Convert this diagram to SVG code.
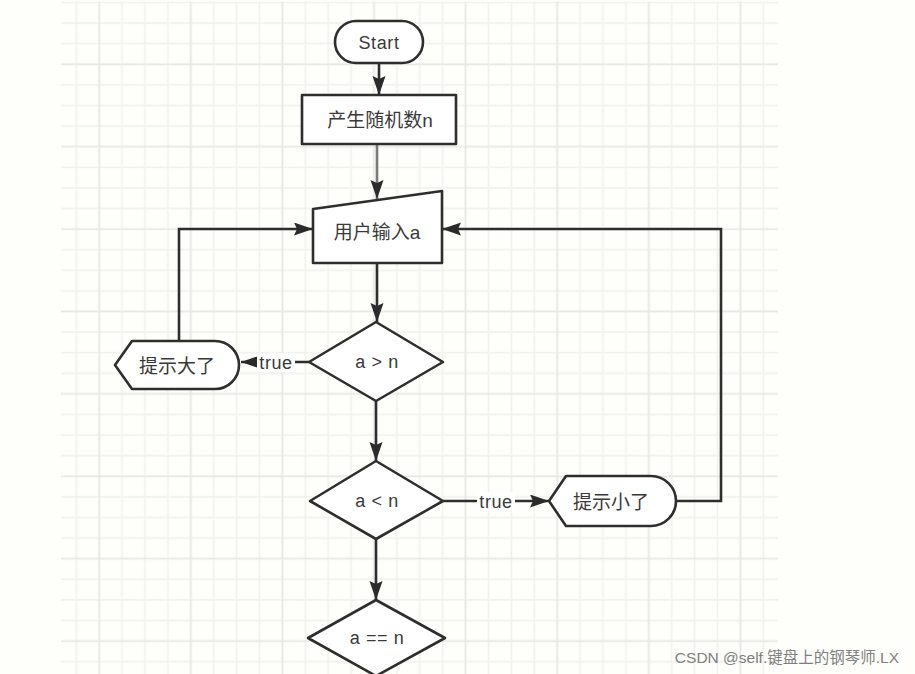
<svg xmlns="http://www.w3.org/2000/svg" width="915" height="674" viewBox="0 0 915 674">
<defs>
<pattern id="grid" patternUnits="userSpaceOnUse" x="87.75" y="54" width="91.6" height="82.4">
<rect x="0" y="0" width="91.6" height="82.4" fill="#fefefa"/>
<g stroke="#f1f1ed" stroke-width="1.6">
<line x1="34.35" y1="0" x2="34.35" y2="82.4"/>
<line x1="57.25" y1="0" x2="57.25" y2="82.4"/>
<line x1="80.15" y1="0" x2="80.15" y2="82.4"/>
<line x1="0" y1="30.9" x2="91.6" y2="30.9"/>
<line x1="0" y1="51.5" x2="91.6" y2="51.5"/>
<line x1="0" y1="72.1" x2="91.6" y2="72.1"/>
</g>
<g stroke="#e7e7e3" stroke-width="1.8">
<line x1="11.45" y1="0" x2="11.45" y2="82.4"/>
<line x1="0" y1="10.3" x2="91.6" y2="10.3"/>
</g>
</pattern>
<marker id="arr" markerUnits="userSpaceOnUse" markerWidth="20" markerHeight="14" refX="19" refY="6.5" orient="auto">
<path d="M0,0 L19,6.5 L0,13 L3,6.5 Z" fill="#2b2b2b"/>
</marker>
<style>
.shape{fill:#ffffff;stroke:#2e2e2e;stroke-width:2.6;stroke-linejoin:round}
.conn{fill:none;stroke:#2e2e2e;stroke-width:2.6}
.lbl{font-family:"Liberation Sans","Noto Sans CJK SC",sans-serif;fill:#3a3a3a;text-anchor:middle;dominant-baseline:central}
.cjk{font-size:19px}
.lat{font-size:18px;letter-spacing:0.6px}
.tl{font-size:18px;letter-spacing:0.6px}
.wm{font-family:"Liberation Sans","Noto Sans CJK SC",sans-serif;font-size:15.5px;fill:#808080;text-anchor:end}
</style>
</defs>
<rect x="0" y="0" width="915" height="674" fill="#fefefa"/>
<rect x="61" y="1.5" width="717" height="672.5" fill="url(#grid)"/>

<g id="connectors">
<path class="conn" d="M379,63 V95" stroke="#555" marker-end="url(#arr)"/>
<path class="conn" d="M377,144 V199" style="stroke:#7a7a7a" marker-end="url(#arr)"/>
<path class="conn" d="M377,263 V322" marker-end="url(#arr)"/>
<path class="conn" d="M376,401 V461" marker-end="url(#arr)"/>
<path class="conn" d="M376,539 V600" marker-end="url(#arr)"/>
<path class="conn" d="M309,362 H241" marker-end="url(#arr)"/>
<path class="conn" d="M443,501 H549" marker-end="url(#arr)"/>
<path class="conn" d="M179,342 V229 H313" marker-end="url(#arr)"/>
<path class="conn" d="M676,501 H721 V229 H442" marker-end="url(#arr)"/>
<g id="label-true-1">
<rect x="257" y="353" width="38" height="19" fill="#ffffff"/>
<text class="lbl tl" x="276" y="363">true</text>
</g>
<g id="label-true-2">
<rect x="477" y="492" width="38" height="19" fill="#ffffff"/>
<text class="lbl tl" x="496" y="502">true</text>
</g>
</g>

<g id="start">
<rect class="shape" x="335" y="21" width="88" height="42" rx="21"/>
<text class="lbl lat" x="379" y="43">Start</text>
</g>
<g id="gen">
<rect class="shape" x="302" y="95" width="154" height="49"/>
<text class="lbl cjk" x="380" y="120">产生随机数n</text>
</g>
<g id="input">
<path class="shape" d="M313,209 L442,191 L442,263 L313,263 Z"/>
<text class="lbl cjk" x="377" y="232">用户输入a</text>
</g>
<g id="cmp-gt">
<path class="shape" d="M376,322 L443,362 L376,401 L309,362 Z"/>
<text class="lbl lat" x="377" y="362">a &gt; n</text>
</g>
<g id="hint-big">
<path class="shape" d="M115,365 L132,341 H215 A24,24 0 0 1 215,389 H132 Z"/>
<text class="lbl cjk" x="177" y="366">提示大了</text>
</g>
<g id="cmp-lt">
<path class="shape" d="M376,461 L443,501 L376,539 L310,501 Z"/>
<text class="lbl lat" x="377" y="501">a &lt; n</text>
</g>
<g id="hint-small">
<path class="shape" d="M549,501 L566,476 H651 A25,25 0 0 1 651,526 H566 Z"/>
<text class="lbl cjk" x="611" y="502">提示小了</text>
</g>
<g id="cmp-eq">
<path class="shape" d="M376,600 L445,638 L376,676 L308,638 Z"/>
<text class="lbl lat" x="377" y="638">a == n</text>
</g>

<text class="wm" x="899" y="663">CSDN @self.键盘上的钢琴师.LX</text>
</svg>
